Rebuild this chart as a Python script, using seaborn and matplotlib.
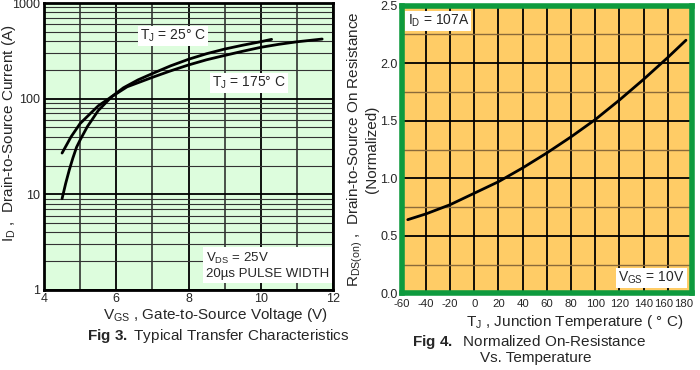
import numpy as np
import pandas as pd
import matplotlib
matplotlib.use("Agg")
import matplotlib.pyplot as plt
import matplotlib.transforms as mtransforms
import seaborn as sns
from matplotlib.ticker import FixedLocator, NullFormatter

# Fig 3 - transfer characteristics
vgs_25 = [4.5, 4.6, 4.7, 4.8, 4.9, 5.0, 5.2, 5.5, 5.875, 6.2, 6.6, 7.0, 7.5, 8.0, 8.5, 9.0, 9.5, 10.0, 10.3]
id_25 = [9, 13, 18, 24, 31, 37, 51, 75, 105, 130, 157, 183, 220, 258, 295, 330, 362, 394, 417]
vgs_175 = [4.5, 4.75, 5.0, 5.25, 5.5, 5.875, 6.3, 7.0, 7.5, 8.0, 8.5, 9.0, 9.5, 10.0, 10.5, 11.0, 11.7]
id_175 = [27, 40, 55, 68, 84, 105, 133, 167, 195, 225, 255, 283, 313, 344, 370, 393, 420]

# Fig 4 - normalized on-resistance
tj = [-55, -40, -20, 0, 20, 25, 40, 60, 80, 100, 120, 140, 160, 175]
rds_norm = [0.64, 0.69, 0.77, 0.87, 0.97, 1.0, 1.09, 1.22, 1.36, 1.51, 1.68, 1.86, 2.05, 2.2]

sns.set_style("white")
plt.rcParams["font.family"] = ["Liberation Sans", "DejaVu Sans"]
plt.rcParams["mathtext.fontset"] = "custom"
plt.rcParams["mathtext.rm"] = "Liberation Sans"
plt.rcParams["mathtext.it"] = "Liberation Sans:italic"
plt.rcParams["mathtext.bf"] = "Liberation Sans:bold"
plt.rcParams["mathtext.default"] = "rm"
plt.rcParams["axes.unicode_minus"] = False

W, H = 700, 370
fig = plt.figure(figsize=(7, 3.7), dpi=100)

def px(x0, y0, x1, y1):
    return [x0 / W, 1 - y1 / H, (x1 - x0) / W, (y1 - y0) / H]

# ---------- left panel ----------
ax1 = fig.add_axes(px(44, 3, 333, 290))
ax1.set_facecolor("#DDFDDD")
df25 = pd.DataFrame({"vgs": vgs_25, "id": id_25})
df175 = pd.DataFrame({"vgs": vgs_175, "id": id_175})
sns.lineplot(data=df25, x="vgs", y="id", ax=ax1, color="black", lw=2.0, sort=False)
sns.lineplot(data=df175, x="vgs", y="id", ax=ax1, color="black", lw=2.0, sort=False)
ax1.set_yscale("log")
ax1.set_xlim(4, 12)
ax1.set_ylim(1, 1000)
ax1.set_xticks([4, 6, 8, 10, 12])
ax1.xaxis.set_minor_locator(FixedLocator([5, 7, 9, 11]))
ax1.set_yticks([1, 10, 100, 1000])
ax1.set_yticklabels(["1", "10", "100", "1000"])
ax1.yaxis.set_minor_locator(FixedLocator([m * 10 ** e for e in range(3) for m in range(2, 10)]))
ax1.yaxis.set_minor_formatter(NullFormatter())
ax1.grid(which="major", color="black", lw=1.3)
ax1.grid(which="minor", axis="x", color="#222222", lw=1.1)
ax1.grid(which="minor", axis="y", color="#333333", lw=0.8)
ax1.set_axisbelow(True)
for s in ax1.spines.values():
    s.set_color("black")
    s.set_linewidth(2.0)
ax1.tick_params(axis="y", which="both", length=0, labelsize=9, pad=3)
ax1.tick_params(axis="x", which="both", length=0, labelsize=9, pad=2)
ax1.set_xlabel("")
ax1.set_ylabel("")

box = dict(facecolor="white", edgecolor="none", pad=1.5)
ax1.text(6.65, 450, "T$_J$ = 25° C", fontsize=10, va="center", ha="left", bbox=box)
ax1.text(8.65, 146, "T$_J$ = 175° C", fontsize=10, va="center", ha="left", bbox=box)
ax1.text(0.56, 0.035, "V$_{DS}$ = 25V\n20µs PULSE WIDTH", transform=ax1.transAxes,
         fontsize=9.5, va="bottom", ha="left", linespacing=1.2,
         bbox=dict(facecolor="white", edgecolor="none", pad=2))

fig.text(9 / W, 1 - 133 / H, "I$_D$ ,  Drain-to-Source Current (A)", fontsize=11,
         rotation=90, ha="center", va="center")
fig.text(215 / W, 1 - 315 / H, "V$_{GS}$ , Gate-to-Source Voltage (V)", fontsize=11,
         ha="center", va="center")
fig.text(218 / W, 1 - 336 / H, r"$\bf{Fig\ 3.}$ Typical Transfer Characteristics",
         fontsize=11, ha="center", va="center")

# ---------- right panel ----------
ax2 = fig.add_axes(px(401.7, 5.7, 692, 293.3))
ax2.set_facecolor("#FFCC66")
dfr = pd.DataFrame({"tj": tj, "rds": rds_norm})
sns.lineplot(data=dfr, x="tj", y="rds", ax=ax2, color="black", lw=2.0)
ax2.set_xlim(-60, 180)
ax2.set_ylim(0, 2.5)
ax2.set_xticks(np.arange(-60, 181, 20))
ax2.set_yticks([0.0, 0.5, 1.0, 1.5, 2.0, 2.5])
ax2.set_yticklabels(["0.0", "0.5", "1.0", "1.5", "2.0", "2.5"])
ax2.yaxis.set_minor_locator(FixedLocator([0.25, 0.75, 1.25, 1.75, 2.25]))
ax2.grid(which="major", color="black", lw=1.3)
ax2.grid(which="minor", axis="y", color="#8A6A3A", lw=1.0)
ax2.set_axisbelow(True)
for s in ax2.spines.values():
    s.set_color("#0E9A3E")
    s.set_linewidth(4.0)
ax2.tick_params(axis="y", which="both", length=0, labelsize=9, pad=3)
ax2.tick_params(axis="x", which="both", length=0, labelsize=8.2, pad=4)
# crowd the last two labels together like the datasheet ("160180")
xlabels = ax2.get_xticklabels()
xlabels[-1].set_ha("right")
xlabels[-1].set_transform(xlabels[-1].get_transform()
                          + mtransforms.ScaledTranslation(1.5 / 100, 0, fig.dpi_scale_trans))
xlabels[-2].set_transform(xlabels[-2].get_transform()
                          + mtransforms.ScaledTranslation(-4 / 100, 0, fig.dpi_scale_trans))
ax2.set_xlabel("")
ax2.set_ylabel("")

ax2.text(0.02, 0.975, "I$_D$ = 107A", transform=ax2.transAxes, fontsize=10,
         va="top", ha="left", bbox=dict(facecolor="white", edgecolor="none", pad=1.5))
ax2.text(0.975, 0.025, "V$_{GS}$ = 10V", transform=ax2.transAxes, fontsize=10,
         va="bottom", ha="right", bbox=dict(facecolor="white", edgecolor="none", pad=1.5))

fig.text(362 / W, 1 - 149 / H,
         "R$_{DS(on)}$ ,  Drain-to-Source On Resistance\n(Normalized)",
         fontsize=11, rotation=90, ha="center", va="center", linespacing=1.0,
         multialignment="center")
fig.text(575 / W, 1 - 322 / H, "T$_J$ , Junction Temperature ( ° C)", fontsize=11,
         ha="center", va="center")
fig.text(529 / W, 1 - 342 / H, r"$\bf{Fig\ 4.}$  Normalized On-Resistance",
         fontsize=11, ha="center", va="center")
fig.text(536 / W, 1 - 358 / H, "Vs. Temperature", fontsize=11, ha="center", va="center")

fig.savefig("out.png", dpi=100)
